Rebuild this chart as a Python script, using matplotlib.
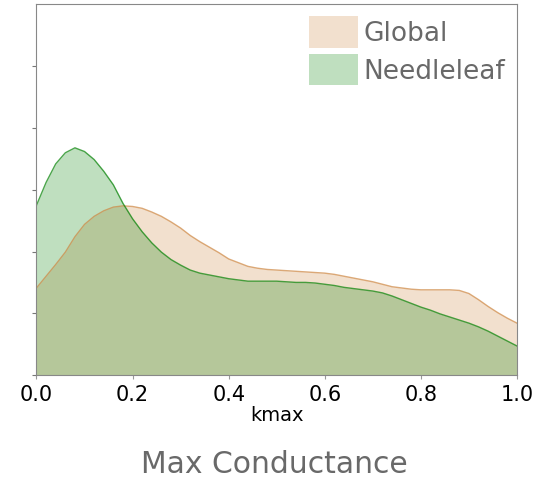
import numpy as np
import matplotlib.pyplot as plt
from matplotlib.patches import Patch

# kmax grid and densities
kmax = np.linspace(0, 1, 51)
needleleaf = [2.75, 3.12, 3.42, 3.60, 3.68, 3.62, 3.49, 3.30, 3.08, 2.78,
              2.53, 2.32, 2.14, 1.99, 1.87, 1.78, 1.70, 1.65, 1.62, 1.59,
              1.56, 1.54, 1.52, 1.52, 1.52, 1.52, 1.51, 1.50, 1.50, 1.49,
              1.47, 1.45, 1.42, 1.40, 1.38, 1.36, 1.33, 1.28, 1.22, 1.16,
              1.10, 1.05, 0.99, 0.94, 0.89, 0.84, 0.78, 0.71, 0.63, 0.55, 0.47]
global_ = [1.41, 1.60, 1.79, 1.99, 2.24, 2.44, 2.57, 2.66, 2.72, 2.74,
           2.73, 2.70, 2.64, 2.57, 2.48, 2.38, 2.26, 2.16, 2.07, 1.98,
           1.88, 1.82, 1.76, 1.73, 1.71, 1.70, 1.69, 1.68, 1.67, 1.66,
           1.65, 1.63, 1.60, 1.57, 1.54, 1.51, 1.47, 1.43, 1.41, 1.39,
           1.38, 1.38, 1.38, 1.38, 1.37, 1.32, 1.22, 1.11, 1.01, 0.92, 0.84]
labels = ["Global", "Needleleaf"]
colors = ["peru", "green"]

fig = plt.figure(figsize=(5.48, 4.81), dpi=100)
ax = fig.add_axes([0.0666, 0.2183, 0.8768, 0.7713])

for y, c in zip([global_, needleleaf], colors):
    ax.fill_between(kmax, 0, y, color=c, alpha=0.25, lw=0)
    ax.plot(kmax, y, color=c, lw=1, alpha=0.7)

ax.set_xlim(0, 1)
ax.set_ylim(0, 6.01)
ax.set_yticks(range(6))
ax.set_yticklabels([])
ax.set_xticks(np.arange(0, 1.01, 0.2))
ax.tick_params(axis='x', labelsize=15, length=3, color='#999999')
ax.tick_params(axis='y', length=3, color='#777777')
for s in ax.spines.values():
    s.set_color('#888888')
ax.set_xlabel("kmax", fontsize=14, labelpad=1)

handles = [Patch(facecolor=c, alpha=0.25) for c in colors]
leg = ax.legend(handles, labels, loc='upper right', frameon=False, fontsize=19,
                handlelength=1.86, handleheight=1.47, labelspacing=0.23,
                handletextpad=0.2, borderaxespad=0.05)
for t in leg.get_texts():
    t.set_color('dimgray')

fig.text(0.5, 0.016, "Max Conductance", ha='center', fontsize=21.5, color='dimgray')

plt.savefig("out.png")
